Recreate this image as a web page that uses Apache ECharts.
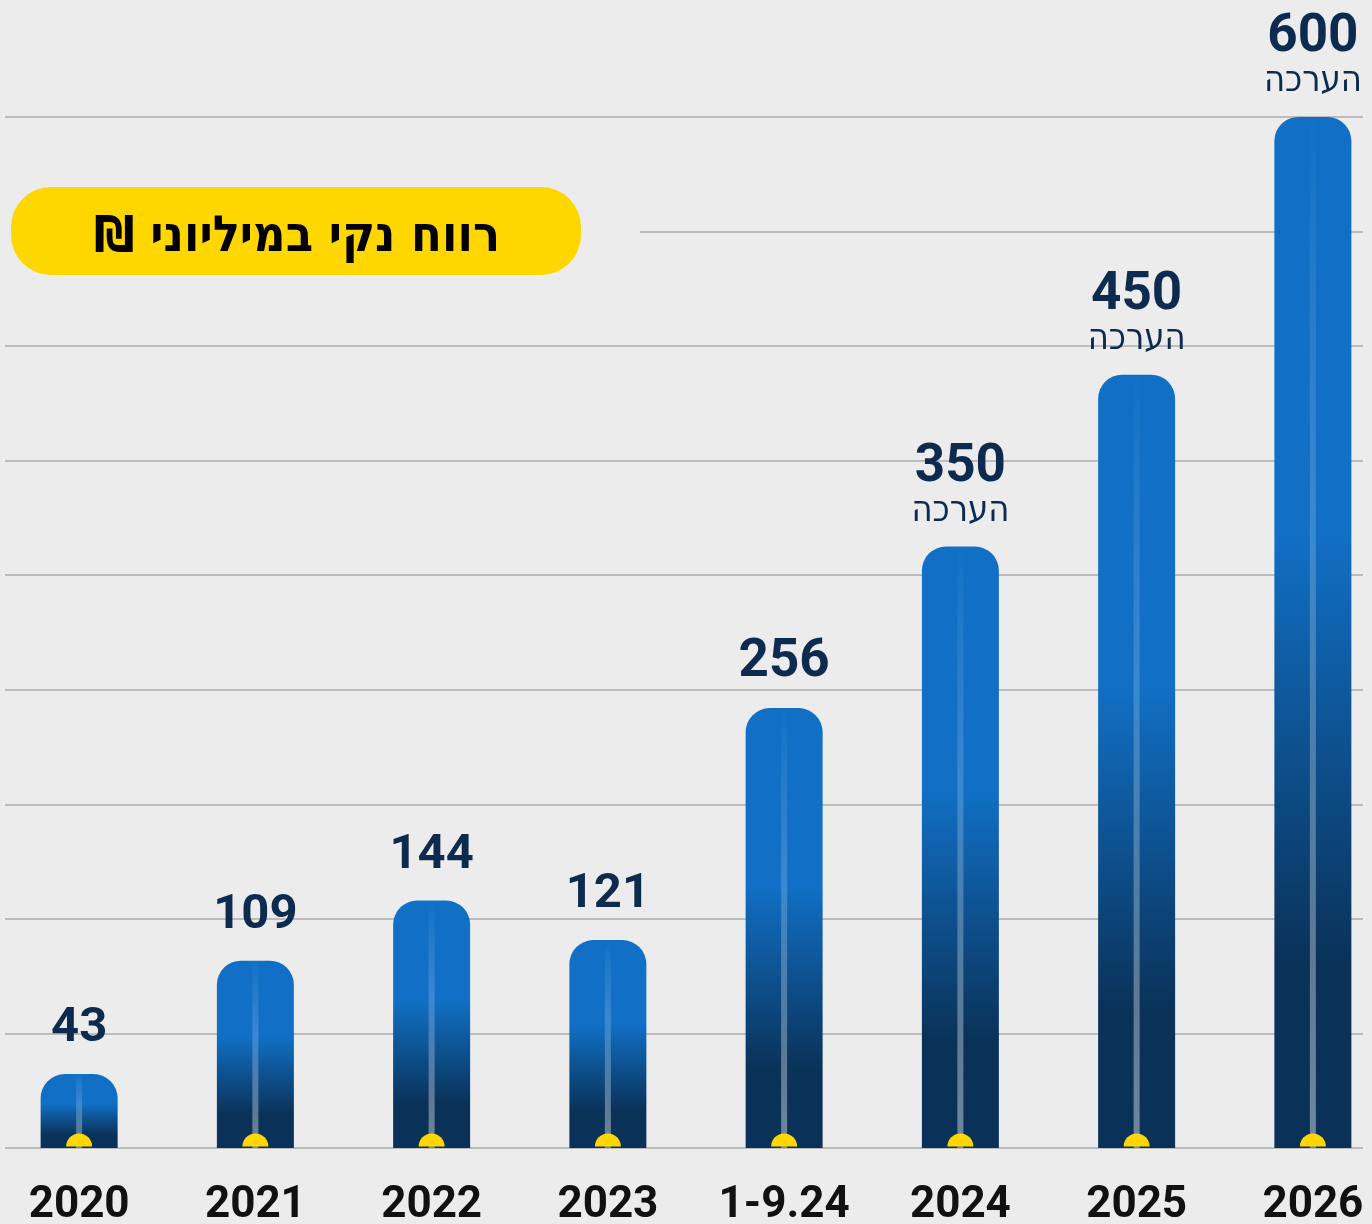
<!DOCTYPE html>
<html>
<head>
<meta charset="utf-8">
<script src="https://cdn.jsdelivr.net/npm/echarts@6/dist/echarts.min.js"></script>
<style>
  html, body { margin: 0; padding: 0; background: #ececec; overflow: hidden; }
  /* the chart is a bit wider than the window so the outer bars sit where they should */
  #chart { width: 1410px; height: 1224px; margin-left: -9px; }
</style>
</head>
<body>
<div id="chart"></div>
<script>
  // רווח נקי במיליוני ₪
  var categories = ['2020', '2021', '2022', '2023', '1-9.24', '2024', '2025', '2026'];
  var profit = [43, 109, 144, 121, 256, 350, 450, 600];
  var isEstimate = [false, false, false, false, false, true, true, true];
  var estimateText = 'הערכה';
  var titleText = 'רווח נקי במיליוני ₪\u200F';
  var yMax = 600;
  var ySplits = 9;

  var navy = '#0d2b4e';
  var chart = echarts.init(document.getElementById('chart'));

  chart.setOption({
    backgroundColor: '#ececec',
    animation: false,
    grid: [
      // grid lines only
      { left: 14, right: 38, top: 117, bottom: 76, outerBoundsMode: 'none' },
      // bars
      { left: 0, right: 0, top: 117, bottom: 76, outerBoundsMode: 'none' }
    ],
    xAxis: [
      { type: 'category', gridIndex: 0, data: categories, show: false },
      {
        type: 'category', gridIndex: 1, data: categories,
        axisLine: { show: false }, axisTick: { show: false },
        axisLabel: {
          interval: 0,
          margin: 36,
          fontFamily: 'Roboto',
          fontWeight: 'bold',
          fontSize: 44,
          lineHeight: 44,
          color: '#111'
        }
      },
      { type: 'category', gridIndex: 1, data: categories, show: false }
    ],
    yAxis: [
      {
        type: 'value', gridIndex: 0, min: 0, max: yMax, interval: yMax / ySplits,
        axisLabel: { show: false }, axisLine: { show: false }, axisTick: { show: false },
        splitLine: { lineStyle: { color: '#bcbcbc', width: 2 } }
      },
      {
        type: 'value', gridIndex: 1, min: 0, max: yMax, interval: yMax / ySplits,
        show: false, splitLine: { show: false }
      }
    ],
    series: [
      {
        type: 'bar',
        xAxisIndex: 1, yAxisIndex: 1,
        data: profit,
        barWidth: 77,
        z: 2,
        itemStyle: {
          borderRadius: [24, 24, 0, 0],
          color: new echarts.graphic.LinearGradient(0, 0, 0, 1, [
            { offset: 0, color: '#1170c6' },
            { offset: 0.4, color: '#1170c6' },
            { offset: 0.82, color: '#0a3259' },
            { offset: 1, color: '#0a3259' }
          ])
        },
        label: {
          show: true,
          position: 'top',
          distance: 18,
          formatter: function (p) {
            var i = p.dataIndex;
            if (isEstimate[i]) return '{v|' + p.value + '}\n{e|' + estimateText + '}';
            return (i < 4 ? '{n|' : '{v|') + p.value + '}';
          },
          rich: {
            v: { fontFamily: 'Roboto', fontWeight: 'bold', fontSize: 53, lineHeight: 54, color: navy },
            n: { fontFamily: 'Roboto', fontWeight: 'bold', fontSize: 49, lineHeight: 54, color: navy },
            e: { fontFamily: 'DejaVu Sans Condensed', fontSize: 36, lineHeight: 34, color: navy }
          }
        }
      },
      {
        // thin light line inside each bar
        type: 'bar',
        xAxisIndex: 2, yAxisIndex: 1,
        data: profit,
        barWidth: 6,
        z: 3,
        itemStyle: {
          color: new echarts.graphic.LinearGradient(0, 0, 0, 1, [
            { offset: 0, color: 'rgba(255,255,255,0)' },
            { offset: 0.05, color: 'rgba(255,255,255,0.03)' },
            { offset: 1, color: 'rgba(255,255,255,0.42)' }
          ])
        },
        silent: true
      },
      {
        // yellow half dot at the base
        type: 'scatter',
        xAxisIndex: 1, yAxisIndex: 1,
        data: profit.map(function () { return 0; }),
        symbol: 'path://M0,20 A20,20 0 0 1 40,20 Z',
        symbolSize: [26, 13],
        symbolOffset: [0, -8],
        itemStyle: { color: '#fed700', opacity: 1 },
        z: 4,
        silent: true
      }
    ],
    graphic: [
      // hides the grid line behind the title area
      { type: 'rect', z: 50, shape: { x: 0, y: 224, width: 649, height: 14 }, style: { fill: '#ececec' } },
      { type: 'rect', z: 51, shape: { x: 20, y: 187, width: 570, height: 88, r: 40 }, style: { fill: '#fed700' } },
      {
        type: 'text', z: 52, x: 306, y: 238,
        style: {
          text: titleText,
          font: 'bold 50px "DejaVu Sans Condensed"',
          fill: '#000',
          align: 'center',
          verticalAlign: 'middle'
        }
      }
    ]
  });
</script>
</body>
</html>
